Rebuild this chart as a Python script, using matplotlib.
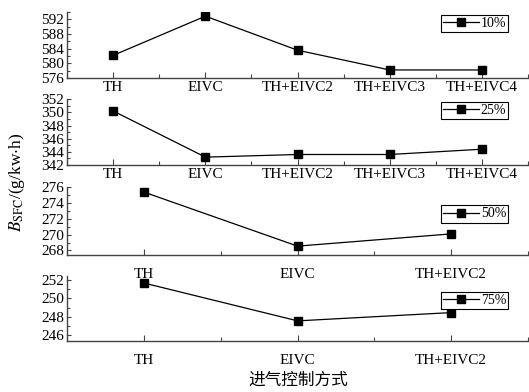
import numpy as np
import matplotlib
matplotlib.use('Agg')
import matplotlib.pyplot as plt
from matplotlib.ticker import MultipleLocator

plt.rcParams['font.family'] = ['Liberation Serif', 'Noto Sans CJK SC']
plt.rcParams['mathtext.fontset'] = 'stix'

# 数据
cats5 = ['TH', 'EIVC', 'TH+EIVC2', 'TH+EIVC3', 'TH+EIVC4']
cats3 = ['TH', 'EIVC', 'TH+EIVC2']
load10 = [582.2, 592.9, 583.6, 578.2, 578.2]
load25 = [350.2, 343.2, 343.6, 343.6, 344.4]
load50 = [275.4, 268.55, 270.1]
load75 = [251.64, 247.57, 248.46]
labels = ['10%', '25%', '50%', '75%']

fig = plt.figure(figsize=(5.29, 3.92), dpi=100)

# [left, bottom, width, height], ylim, major, minor, legend anchor y, tick pad
panels = [
    ([0.127, 0.801, 0.871, 0.168], cats5, load10, (576, 594), 4, 2, 0.955, 2),
    ([0.127, 0.579, 0.871, 0.168], cats5, load25, (342, 352), 2, 1, 0.955, 2),
    ([0.127, 0.349, 0.871, 0.173], cats3, load50, (267.4, 276), 2, 1, 0.735, 9),
    ([0.127, 0.130, 0.871, 0.166], cats3, load75, (245.4, 252.4), 2, 1, 0.754, 9),
]

for (rect, cats, vals, ylim, maj, mnr, ly, pad), lab in zip(panels, labels):
    ax = fig.add_axes(rect)
    ax.patch.set_visible(False)
    x = np.arange(len(cats))
    ax.plot(x, vals, color='black', lw=0.9, marker='s', ms=5.2,
            markerfacecolor='black', label=lab)
    ax.set_xlim(-0.5, len(cats) - 0.5)
    ax.set_ylim(*ylim)
    ax.set_xticks(x)
    ax.set_xticklabels(cats)
    ax.set_xticks(np.arange(-0.5, len(cats), 1.0), minor=True)
    ax.yaxis.set_major_locator(MultipleLocator(maj))
    ax.yaxis.set_minor_locator(MultipleLocator(mnr))
    ax.tick_params(axis='both', which='both', direction='in', labelsize=11,
                   color='#444444', width=0.8)
    ax.tick_params(axis='x', which='major', length=4, pad=pad)
    ax.tick_params(axis='x', which='minor', length=3)
    ax.tick_params(axis='y', which='major', length=3, pad=2)
    ax.tick_params(axis='y', which='minor', length=2)
    for s in ['top', 'right']:
        ax.spines[s].set_visible(False)
    for s in ['left', 'bottom']:
        ax.spines[s].set_color('#444444')
        ax.spines[s].set_linewidth(1.0)
    leg = ax.legend(loc='upper right', bbox_to_anchor=(0.957, ly), fontsize=10,
                    handlelength=2.6, handletextpad=0.1, borderpad=0.15,
                    borderaxespad=0, fancybox=False, framealpha=1)
    leg.get_frame().set_edgecolor('black')
    leg.get_frame().set_linewidth(0.8)

fig.text(0.033, 0.535, r'$B_{\mathrm{SFC}}$/(g/kw$\cdot$h)', rotation=90,
         ha='center', va='center', fontsize=12.5)
fig.text(0.563, 0.03, '进气控制方式', ha='center', va='center', fontsize=12,
         family=['Noto Sans CJK SC', 'Liberation Serif'])

fig.savefig('out.png', dpi=100)
